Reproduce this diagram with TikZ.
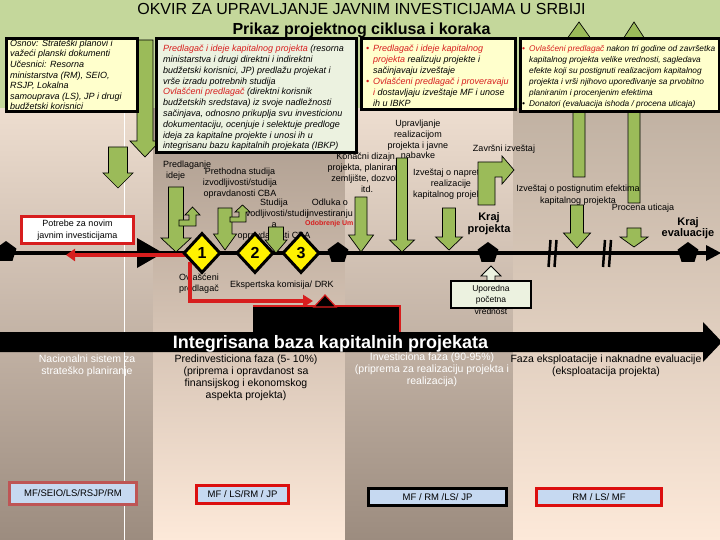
\documentclass[tikz,border=0pt]{standalone}
\usepackage{fontspec}
\setmainfont{Liberation Sans}
\usetikzlibrary{shapes.geometric,arrows.meta}
\definecolor{gband}{RGB}{196,215,155}
\definecolor{garr}{RGB}{155,187,89}
\definecolor{ybox}{RGB}{255,255,204}
\definecolor{gbox}{RGB}{236,242,224}
\definecolor{rd}{RGB}{215,30,30}
\definecolor{rd2}{RGB}{220,15,15}
\definecolor{rosy}{RGB}{190,85,85}
\definecolor{bbox}{RGB}{198,217,241}
\definecolor{colL}{RGB}{238,222,208}
\definecolor{colD}{RGB}{156,140,127}
\definecolor{colP}{RGB}{253,233,217}
\definecolor{colM}{RGB}{170,154,140}
\definecolor{colN}{RGB}{192,177,162}
\newcommand{\grdown}[6]{\filldraw[garrow] ({#1-#4},#2) -- ({#1+#4},#2) -- ({#1+#4},{#3-#6}) -- ({#1+#5},{#3-#6}) -- (#1,#3) -- ({#1-#5},{#3-#6}) -- ({#1-#4},{#3-#6}) -- cycle;}
\newcommand{\grup}[6]{\filldraw[garrow] ({#1-#4},#2) -- ({#1+#4},#2) -- ({#1+#4},{#3+#6}) -- ({#1+#5},{#3+#6}) -- (#1,#3) -- ({#1-#5},{#3+#6}) -- ({#1-#4},{#3+#6}) -- cycle;}
\newcommand{\mybul}[1]{\makebox[7pt][l]{\textcolor{#1}{\textbullet}}}
\newcommand{\myind}{\hspace*{7pt}}
\begin{document}
\begin{tikzpicture}[x=1pt,y=-1pt,
  garrow/.style={fill=garr, draw=black, line width=0.7pt, line join=miter},
  topbox/.style={draw=black, line width=3pt, inner sep=0pt, anchor=north west},
  btxt/.style={font=\fontsize{9}{10.8}\selectfont\itshape, align=left, inner sep=0pt, anchor=north west},
  lbl/.style={font=\fontsize{9}{11}\selectfont, align=center, inner sep=0pt, anchor=north},
  btm/.style={font=\fontsize{10.5}{12}\selectfont, align=center, inner sep=0pt, anchor=north},
  kraj/.style={font=\fontsize{11}{12}\selectfont\bfseries, align=center, inner sep=0pt, anchor=north},
  actor/.style={fill=bbox, line width=3pt, inner sep=0pt, font=\fontsize{9.5}{11}\selectfont},
  pent/.style={regular polygon, regular polygon sides=5, fill=black, minimum size=22pt, inner sep=0pt},
  dmd/.style={diamond, fill=yellow, draw=black, line width=3pt, minimum width=37pt, minimum height=40pt, inner sep=0pt, font=\fontsize{16}{16}\selectfont\bfseries},
  redl/.style={draw=rd, line width=4pt, line join=miter}]
\useasboundingbox (0,0) rectangle (720,540);
% backgrounds
\shade[top color=colL, bottom color=colD] (0,105) rectangle (153,540);
\shade[top color=colM, bottom color=colP] (153,105) rectangle (345,540);
\shade[top color=colL, bottom color=colD] (345,105) rectangle (513,540);
\shade[top color=colN, bottom color=colP] (513,105) rectangle (720,540);
\fill[gband] (0,0) rectangle (720,108);
\draw[white, line width=1pt] (124.5,108) -- (124.5,540);
% title
\node[font=\fontsize{16}{16}\selectfont, anchor=base, inner sep=0pt] (t1) at (361.5,15) {OKVIR ZA UPRAVLJANJE JAVNIM INVESTICIJAMA U SRBIJI};
\node[font=\fontsize{16}{16}\selectfont\bfseries, anchor=base, inner sep=0pt] (t2) at (361.5,34.5) {Prikaz projektnog ciklusa i koraka};
% arrows behind boxes
\grup{579}{177}{22}{6}{15}{21}
\grup{634}{203}{22}{6}{13.5}{21}
\grdown{145}{40}{157}{8}{15}{16}
% top boxes
\node[topbox, fill=ybox, minimum width=131pt, minimum height=73.5pt] (box1) at (4.5,37) {};
\node[topbox, fill=gbox, minimum width=200pt, minimum height=114.5pt] (box2) at (154.5,37) {};
\node[topbox, fill=ybox, minimum width=154pt, minimum height=71.5pt] (box3) at (359.5,37) {};
\node[topbox, fill=ybox, minimum width=199pt, minimum height=73.5pt] (box4) at (518.5,37) {};
\node[btxt, font=\fontsize{9}{10.6}\selectfont\itshape] (b1t) at (10,39.5) {Osnov: Strateški planovi i\\važeći planski dokumenti\\Učesnici: Resorna\\ministarstva (RM), SEIO,\\RSJP, Lokalna\\samouprava (LS), JP i drugi\\budžetski korisnici};
\node[btxt] (b2t) at (163,45) {\textcolor{rd}{Predlagač i ideje kapitalnog projekta} (resorna\\ministarstva i drugi direktni i indirektni\\budžetski korisnici, JP) predlažu projekat i\\vrše izradu potrebnih studija\\\textcolor{rd}{Ovlašćeni predlagač} (direktni korisnik\\budžetskih sredstava) iz svoje nadležnosti\\sačinjava, odnosno prikuplja svu investicionu\\dokumentaciju, ocenjuje i selektuje predloge\\ideja za kapitalne projekte i unosi ih u\\integrisanu bazu kapitalnih projekata (IBKP)};
\node[btxt, font=\fontsize{9}{11}\selectfont\itshape] (b3t) at (366,45) {\mybul{rd}\textcolor{rd}{Predlagač i ideje kapitalnog}\\\myind\textcolor{rd}{projekta} realizuju projekte i\\\myind sačinjavaju izveštaje\\\mybul{rd}\textcolor{rd}{Ovlašćeni predlagač i proveravaju}\\\myind\textcolor{rd}{i} dostavljaju izveštaje MF i unose\\\myind ih u IBKP};
\node[btxt, font=\fontsize{8.3}{11}\selectfont\itshape] (b4t) at (522,45.5) {\mybul{rd}\textcolor{rd}{Ovlašćeni predlagač} nakon tri godine od završetka\\\myind kapitalnog projekta velike vrednosti, sagledava\\\myind efekte koji su postignuti realizacijom kapitalnog\\\myind projekta i vrši njihovo upoređivanje sa prvobitno\\\myind planiranim i procenjenim efektima\\\mybul{black}Donatori (evaluacija ishoda / procena uticaja)};
% integrated base arrow
\fill[black] (0,332) -- (703,332) -- (703,322) -- (722,342) -- (703,362) -- (703,352) -- (0,352) -- cycle;
\fill[black] (253,306) rectangle (400,332);
\draw[rd, line width=1.2pt] (253,306) -- (400,306) -- (400,332);
\node[font=\fontsize{18}{18}\selectfont\bfseries, text=white, anchor=base, inner sep=0pt] (ib) at (330.5,348) {Integrisana baza kapitalnih projekata};
% timeline
\coordinate (tl0) at (0,253);
\coordinate (tl1) at (708,253);
\draw[line width=3.5pt] (tl0) -- (tl1);
\fill[black] (706,245) -- (721,253) -- (706,261) -- cycle;
\node[pent] (p0) at (6,252) {};
\fill[black] (137,238) -- (163,253) -- (137,268) -- cycle;
\draw[line width=2.5pt] (548.5,267) -- (550.5,240) (554.5,267) -- (556.5,240);
\draw[line width=2.5pt] (603,267) -- (605,240) (609,267) -- (611,240);
% labels
\node[lbl, align=left, anchor=north west] (pi) at (163,161) {Predlaganje\\\hspace*{3pt}ideje};
\node[lbl] (ps) at (240,168) {Prethodna studija\\izvodljivosti/studija\\opravdanosti CBA};
\node[lbl] (si) at (274,199) {Studija\\izvodljivosti/studij\\a\\opravdanosti CBA};
\node[lbl] (oi) at (330,199) {Odluka o\\investiranju};
\node[font=\fontsize{7}{8}\selectfont\bfseries, text=rd, anchor=west, inner sep=0pt] (ou) at (305,224) {Odobrenje Um};
\node[lbl] (kd) at (367,153) {Konačni dizajn,\\projekta, planiranje,\\zemljište, dozvole\\itd.};
\node[lbl, font=\fontsize{9}{10.7}\selectfont] (ur) at (418,120) {Upravljanje\\realizacijom\\projekta i javne\\nabavke};
\node[lbl] (in) at (451,169) {Izveštaj o napretku\\realizacije\\kapitalnog projekta};
\node[lbl] (zi) at (504,145) {Završni izveštaj};
\node[lbl, font=\fontsize{9}{12}\selectfont] (ip) at (578,185) {Izveštaj o postignutim efektima\\kapitalnog projekta};
\node[lbl] (pu) at (643,204) {Procena uticaja};
\node[kraj] (kp) at (489,212) {Kraj\\projekta};
\node[kraj, font=\fontsize{11}{11}\selectfont\bfseries] (ke) at (688,217) {Kraj\\evaluacije};
\node[lbl] (op) at (199,274) {Ovlašćeni\\predlagač};
\node[lbl] (ek) at (282,281) {Ekspertska komisija/ DRK};
% down arrows
\grdown{118}{147}{188}{9.5}{15}{15}
\grdown{176}{187}{252}{7.5}{15}{14}
\grdown{225}{208}{250}{7}{11.5}{16}
\grdown{276}{227}{253}{7.5}{11}{13}
\grdown{361}{197}{252}{6}{12.5}{17}
\grdown{402}{158}{252}{5.5}{12.5}{12}
\grdown{449}{208}{250}{6.5}{13.5}{13}
\grdown{577}{205}{248}{6.5}{13.5}{15}
\grdown{634}{228}{247}{7}{14}{10}
\filldraw[garrow] (478,205) -- (478,162) -- (502,162) -- (502,156) -- (514,170) -- (502,184) -- (502,177) -- (495,177) -- (495,205) -- cycle;
\filldraw[garrow] (179,226) -- (196,226) -- (196,215) -- (200,215) -- (192.5,207) -- (185,215) -- (189,215) -- (189,220) -- (179,220) -- cycle;
\filldraw[garrow] (230,222) -- (246,222) -- (246,212) -- (250,212) -- (242.5,205) -- (235,212) -- (239,212) -- (239,217) -- (230,217) -- cycle;
% red connectors
\coordinate (rs) at (186,255);
\coordinate (rl) at (66,255);
\draw[redl, line width=3.5pt, -{Triangle[length=9pt,width=12pt]}] (rs) -- (rl);
\coordinate (rv) at (190,262);
\coordinate (rc) at (190,301);
\coordinate (re) at (313,301);
\draw[redl, -{Triangle[length=10pt,width=12pt]}] (rv) -- (rc) -- (re);
\filldraw[fill=black, draw=rd, line width=1.2pt] (314,307) -- (325,295) -- (336,307) -- cycle;
% diamonds and pentagons
\node[dmd] (d1) at (202,253) {1};
\node[dmd] (d2) at (255,253) {2};
\node[dmd] (d3) at (301,253) {3};
\node[pent] (p1) at (338,253) {};
\node[pent] (p2) at (488,253) {};
\node[pent] (p3) at (688,253) {};
% side boxes
\node[draw=rd, line width=3pt, fill=white, minimum width=112pt, minimum height=27pt, inner sep=0pt, align=center, font=\fontsize{9}{11.5}\selectfont] (pot) at (77.5,230) {Potrebe za novim\\javnim investicijama};
\filldraw[fill=gbox, draw=black, line width=0.8pt] (487,281) -- (487,276) -- (481,276) -- (491,266) -- (501,276) -- (495,276) -- (495,281);
\node[draw=black, line width=2pt, fill=gbox, minimum width=80pt, minimum height=27pt, inner sep=0pt] (ub) at (491,294.5) {};
\node[lbl, font=\fontsize{8.5}{11.5}\selectfont] (up) at (491,285) {Uporedna\\početna\\vrednost};
% bottom texts
\node[btm, text=white] (ns) at (87,354.5) {Nacionalni sistem za\\strateško planiranje};
\node[btm] (pf) at (246,354.5) {Predinvesticiona faza (5- 10\%)\\(priprema i opravdanost sa\\finansijskog i ekonomskog\\aspekta projekta)};
\node[btm, text=white] (if) at (432,352.5) {Investiciona faza (90-95\%)\\(priprema za realizaciju projekta i\\realizacija)};
\node[btm] (fe) at (606,354.5) {Faza eksploatacije i naknadne evaluacije\\(eksploatacija projekta)};
% actor boxes
\node[actor, draw=rosy, minimum width=127pt, minimum height=22pt] (ac1) at (73,493.5) {MF/SEIO/LS/RSJP/RM};
\node[actor, draw=rd2, minimum width=92pt, minimum height=18pt] (ac2) at (242.5,494.5) {MF / LS/RM / JP};
\node[actor, draw=black, minimum width=138pt, minimum height=17pt] (ac3) at (437.5,497) {MF / RM /LS/ JP};
\node[actor, draw=rd2, minimum width=125pt, minimum height=17pt] (ac4) at (599,497) {RM / LS/ MF};
\end{tikzpicture}
\end{document}
